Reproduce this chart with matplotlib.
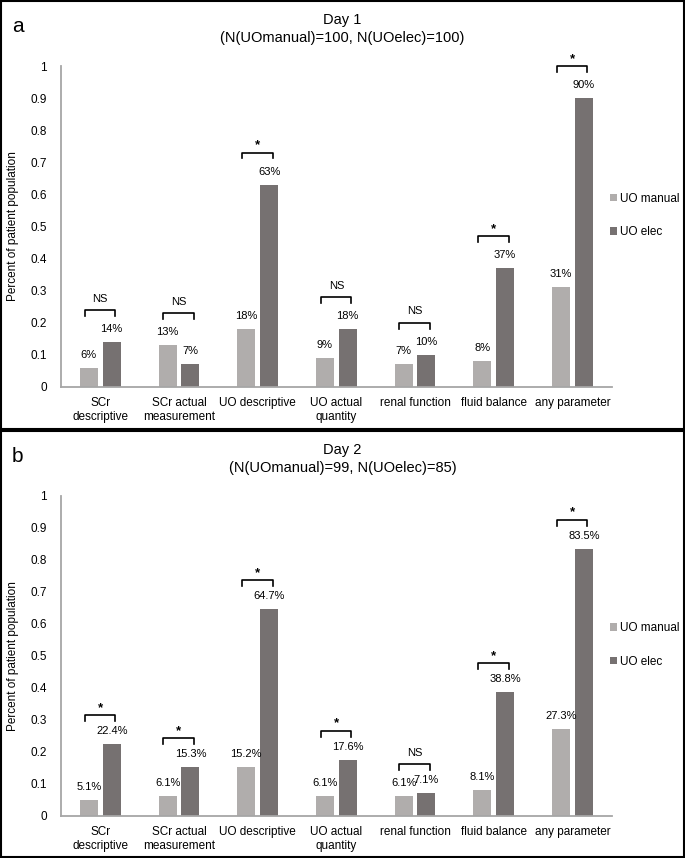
import numpy as np
import matplotlib
matplotlib.use('Agg')
import matplotlib.pyplot as plt
from matplotlib.patches import Rectangle

plt.rcParams['font.family'] = ['Liberation Sans', 'DejaVu Sans']

# Data
categories = ['SCr\ndescriptive', 'SCr actual\nmeasurement', 'UO descriptive',
              'UO actual\nquantity', 'renal function', 'fluid balance', 'any parameter']

day1_manual = [0.06, 0.13, 0.18, 0.09, 0.07, 0.08, 0.31]
day1_elec = [0.14, 0.07, 0.63, 0.18, 0.10, 0.37, 0.90]
day1_manual_lbl = ['6%', '13%', '18%', '9%', '7%', '8%', '31%']
day1_elec_lbl = ['14%', '7%', '63%', '18%', '10%', '37%', '90%']
day1_sig = ['NS', 'NS', '*', 'NS', 'NS', '*', '*']

day2_manual = [0.051, 0.061, 0.152, 0.061, 0.061, 0.081, 0.273]
day2_elec = [0.224, 0.153, 0.647, 0.176, 0.071, 0.388, 0.835]
day2_manual_lbl = ['5.1%', '6.1%', '15.2%', '6.1%', '6.1%', '8.1%', '27.3%']
day2_elec_lbl = ['22.4%', '15.3%', '64.7%', '17.6%', '7.1%', '38.8%', '83.5%']
day2_sig = ['*', '*', '*', '*', 'NS', '*', '*']

c_manual = '#b0adac'
c_elec = '#767171'
c_axis = '#a6a6a6'

fig = plt.figure(figsize=(6.85, 8.58), dpi=100)


def draw_panel(ax, manual, elec, mlbl, elbl, sig, br_off):
    x = np.arange(len(categories))
    off, w = 0.145, 0.23
    ax.bar(x - off, manual, w, color=c_manual, label='UO manual')
    ax.bar(x + off, elec, w, color=c_elec, label='UO elec')
    for i in range(len(x)):
        ax.text(x[i] - off, manual[i] + 0.025, mlbl[i], ha='center', va='bottom', fontsize=8)
        ax.text(x[i] + off, elec[i] + 0.025, elbl[i], ha='center', va='bottom', fontsize=8)
        top = max(manual[i], elec[i]) + br_off
        ax.plot([x[i] - 0.2, x[i] - 0.2, x[i] + 0.19, x[i] + 0.19],
                [top - 0.018, top, top, top - 0.018], color='black', lw=1.2, clip_on=False)
        if sig[i] == '*':
            ax.text(x[i], top + 0.004, '*', ha='center', va='bottom', fontsize=9.5, fontweight='bold')
        else:
            ax.text(x[i], top + 0.02, 'NS', ha='center', va='bottom', fontsize=8)
    ax.set_xlim(-0.5, 6.5)
    ax.set_ylim(0, 1)
    ax.set_yticks(np.arange(0, 1.01, 0.1))
    ax.set_yticklabels(['0', '0.1', '0.2', '0.3', '0.4', '0.5', '0.6', '0.7', '0.8', '0.9', '1'])
    ax.set_xticks(x)
    ax.set_xticklabels(categories, fontsize=8.5, linespacing=1.25)
    ax.tick_params(axis='y', length=0, pad=10, labelsize=8.5)
    ax.tick_params(axis='x', length=0, pad=7)
    for s in ['top', 'right']:
        ax.spines[s].set_visible(False)
    for s in ['left', 'bottom']:
        ax.spines[s].set_color(c_axis)
        ax.spines[s].set_linewidth(1.3)
    ax.set_ylabel('Percent of patient population', fontsize=8.5, labelpad=8)
    ax.legend(loc='upper left', bbox_to_anchor=(0.996, 0.605), frameon=False, fontsize=8.5,
              handlelength=0.6, handleheight=0.6, handletextpad=0.25, labelspacing=1.8,
              borderaxespad=0, borderpad=0)


ax1 = fig.add_axes([0.089, 0.549, 0.804, 0.374])
draw_panel(ax1, day1_manual, day1_elec, day1_manual_lbl, day1_elec_lbl, day1_sig, 0.10)
ax2 = fig.add_axes([0.089, 0.049, 0.804, 0.373])
draw_panel(ax2, day2_manual, day2_elec, day2_manual_lbl, day2_elec_lbl, day2_sig, 0.09)

# Titles and panel letters
fig.text(0.5, 1 - 20 / 858, 'Day 1', ha='center', va='center', fontsize=10.5)
fig.text(0.5, 1 - 38 / 858, '(N(UOmanual)=100, N(UOelec)=100)', ha='center', va='center', fontsize=10.5)
fig.text(0.5, 1 - 450 / 858, 'Day 2', ha='center', va='center', fontsize=10.5)
fig.text(0.5, 1 - 468 / 858, '(N(UOmanual)=99, N(UOelec)=85)', ha='center', va='center', fontsize=10.5)
fig.text(12 / 685, 1 - 26 / 858, 'a', ha='left', va='center', fontsize=15)
fig.text(12 / 685, 1 - 456 / 858, 'b', ha='left', va='center', fontsize=15)

# Panel borders
fig.add_artist(Rectangle((0.0015, 1 - 429 / 858), 0.997, 428 / 858, transform=fig.transFigure,
                         fill=False, edgecolor='black', lw=1.5))
fig.add_artist(Rectangle((0.0015, 0.0015), 0.997, 426 / 858, transform=fig.transFigure,
                         fill=False, edgecolor='black', lw=1.5))

fig.savefig('out.png', dpi=100)
